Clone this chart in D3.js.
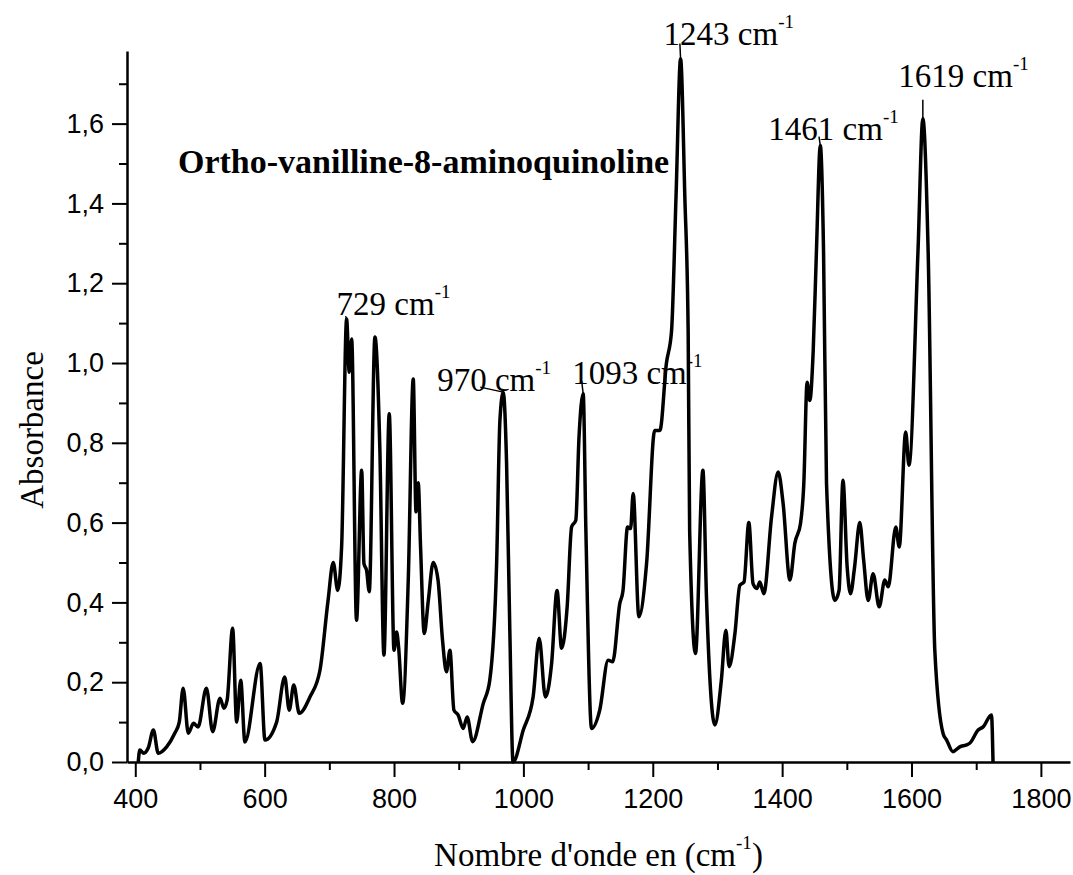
<!DOCTYPE html>
<html lang="en">
<head>
<meta charset="utf-8">
<script src="https://d3js.org/d3.v7.min.js"></script>
<style>
  body { margin: 0; background: #fff; }
</style>
</head>
<body>
<script>
// spectrum: wavenumber (cm-1) and absorbance
var wavenumber = [
  404.6, 407, 413, 420, 428, 435.5, 448.5, 461, 468, 474, 482, 490, 497, 510, 519.6,
  531, 537, 542, 550.5, 556.7, 563, 569.5, 593, 600.5, 618.5, 631, 638, 645, 653.5,
  670, 685.5, 698, 706, 713, 719, 726.7, 730.8, 734.5, 742, 750, 753.5, 757.6, 761.7,
  770.5, 778, 784.4, 792.6, 800, 804, 807, 813.3, 822, 829.7, 834, 837.4, 841, 846.7,
  853, 860.6, 868, 875, 881, 886.4, 892.6, 899, 907, 913, 921.5, 938, 948, 958.6,
  963.7, 968.8, 974, 979, 984, 999.8, 1015, 1024.4, 1034, 1043.6, 1052, 1059, 1067.7,
  1074.5, 1081, 1086, 1092.4, 1096.6, 1105.4, 1118, 1131, 1138, 1149, 1154, 1161,
  1165.7, 1169.7, 1178.5, 1190.4, 1203, 1211, 1221, 1229, 1236, 1243, 1249.5, 1254.7,
  1257, 1266, 1277.5, 1283, 1296, 1306, 1313, 1318, 1327, 1334.6, 1341, 1348.5, 1355,
  1361, 1365.5, 1371.7, 1383.6, 1393.8, 1401.5, 1412, 1419.6, 1428.4, 1433.5, 1438.6,
  1442.8, 1448, 1453, 1459, 1464, 1468.6, 1481.5, 1488, 1494, 1500.5, 1505.7, 1512,
  1520, 1526, 1533, 1540.6, 1550, 1558.7, 1564, 1575.7, 1581, 1591, 1596, 1610,
  1617.5, 1625.7, 1636, 1649, 1654.3, 1664, 1674.6, 1685, 1690, 1703, 1710.7, 1723.6, 1726
];
var absorbance = [
  0.0, 0.03, 0.022, 0.035, 0.08, 0.022, 0.038, 0.072, 0.10, 0.185, 0.072, 0.097, 0.088, 0.185, 0.076,
  0.16, 0.135, 0.155, 0.335, 0.10, 0.205, 0.05, 0.247, 0.055, 0.10, 0.213, 0.13, 0.193, 0.122,
  0.163, 0.23, 0.405, 0.50, 0.43, 0.54, 1.11, 0.977, 1.06, 0.355, 0.731, 0.497, 0.48, 0.427,
  1.065, 0.79, 0.268, 0.873, 0.28, 0.326, 0.289, 0.147, 0.456, 0.96, 0.627, 0.70, 0.54, 0.322,
  0.405, 0.50, 0.456, 0.305, 0.226, 0.28, 0.13, 0.118, 0.084, 0.113, 0.051, 0.147, 0.205, 0.497,
  0.856, 0.927, 0.748, 0.33, 0.0, 0.08, 0.163, 0.31, 0.163, 0.247, 0.43, 0.285, 0.39,
  0.589, 0.606, 0.815, 0.923, 0.58, 0.084, 0.13, 0.255, 0.251, 0.397, 0.43, 0.589,
  0.585, 0.673, 0.364, 0.497, 0.831, 0.831, 0.998, 1.08, 1.42, 1.762, 1.42, 1.08,
  0.58, 0.272, 0.731, 0.414, 0.093, 0.205, 0.33, 0.239, 0.322, 0.443, 0.451, 0.60, 0.447,
  0.435, 0.451, 0.422, 0.614, 0.727, 0.648, 0.456, 0.548, 0.598, 0.698, 0.952,
  0.906, 1.03, 1.28, 1.545, 1.28, 0.698, 0.405, 0.43, 0.706, 0.489, 0.422, 0.489,
  0.60, 0.506, 0.405, 0.472, 0.389, 0.456, 0.439, 0.589, 0.539, 0.827, 0.744, 1.28,
  1.612, 1.28, 0.28, 0.07, 0.055, 0.026, 0.038, 0.043, 0.047, 0.08, 0.088, 0.118, 0.0
];

var xMajorTicks = [400, 600, 800, 1000, 1200, 1400, 1600, 1800];
var xMinorTicks = [500, 700, 900, 1100, 1300, 1500, 1700];
var yMajorTicks = [0, 0.2, 0.4, 0.6, 0.8, 1.0, 1.2, 1.4, 1.6];
var yMinorTicks = [0.1, 0.3, 0.5, 0.7, 0.9, 1.1, 1.3, 1.5, 1.7];

var peakLabels = ["729", "970", "1093", "1243", "1461", "1619"];
var peakWavenumber = [726.7, 968.8, 1092.4, 1243, 1459, 1617.5];
var peakAbsorbance = [1.11, 0.927, 0.923, 1.762, 1.545, 1.612];

var titleText = "Ortho-vanilline-8-aminoquinoline";
var xTitle = "Nombre d'onde en (cm";
var yTitle = "Absorbance";

var width = 1073, height = 875;
var serif = "'Liberation Serif', 'Times New Roman', serif";
var sans = "'Liberation Sans', Arial, sans-serif";

var svg = d3.select("body").append("svg")
  .attr("width", width)
  .attr("height", height);

var x = d3.scaleLinear().domain([387.2, 1845]).range([127, 1070]);
var y = d3.scaleLinear().domain([0, 1.782]).range([762, 51]);

var fmt = function (d) { return d3.format(".1f")(d).replace(".", ","); };

// minor ticks first, so the axis lines sit on top
svg.append("g")
  .attr("transform", "translate(0,762)")
  .call(d3.axisBottom(x).tickValues(xMinorTicks).tickSize(8).tickFormat(""))
  .call(function (g) { g.select(".domain").remove(); });
svg.append("g")
  .attr("transform", "translate(127,0)")
  .call(d3.axisLeft(y).tickValues(yMinorTicks).tickSize(8).tickFormat(""))
  .call(function (g) { g.select(".domain").remove(); });

svg.append("g")
  .attr("transform", "translate(0,762)")
  .call(d3.axisBottom(x).tickValues(xMajorTicks).tickSize(15).tickSizeOuter(0)
    .tickPadding(12).tickFormat(d3.format("d")));
svg.append("g")
  .attr("transform", "translate(127,0)")
  .call(d3.axisLeft(y).tickValues(yMajorTicks).tickSize(15).tickSizeOuter(0)
    .tickPadding(8).tickFormat(fmt));

svg.selectAll(".tick line").attr("stroke", "#000").attr("stroke-width", 2);
svg.selectAll(".domain").attr("stroke", "#000").attr("stroke-width", 2.5);
svg.selectAll(".tick text")
  .attr("fill", "#000")
  .style("font-family", sans)
  .style("font-size", "27px");

// spectrum
var points = wavenumber.map(function (w, i) { return [w, absorbance[i]]; });
var line = d3.line()
  .x(function (d) { return x(d[0]); })
  .y(function (d) { return y(d[1]); })
  .curve(d3.curveMonotoneX);

svg.append("path")
  .datum(points)
  .attr("d", line)
  .attr("fill", "none")
  .attr("stroke", "#000")
  .attr("stroke-width", 3.5)
  .attr("stroke-linejoin", "round");

// peak labels: offset of the text from the peak top, and leader end
var labelOffset = [[-10, -4], [-66, -1], [-11, -10], [-17, -13.5], [-52, -5.5], [-24.5, -31.5]];
var leaderEnd = [[-1, -3], [-23, -5], [-1.5, -13], [-0.7, -15.5], [-1.3, -9], [0, -19]];

peakLabels.forEach(function (lab, i) {
  var px = x(peakWavenumber[i]), py = y(peakAbsorbance[i]);
  svg.append("line")
    .attr("x1", px).attr("y1", py)
    .attr("x2", px + leaderEnd[i][0]).attr("y2", py + leaderEnd[i][1])
    .attr("stroke", "#000")
    .attr("stroke-width", 1.5);
  var t = svg.append("text")
    .attr("x", px + labelOffset[i][0])
    .attr("y", py + labelOffset[i][1])
    .style("font-family", serif)
    .style("font-size", "33px");
  t.append("tspan").text(lab + " cm");
  t.append("tspan").attr("dy", -17).style("font-size", "19px").text("-1");
});

// title inside the plot
svg.append("text")
  .attr("x", 178)
  .attr("y", 173)
  .style("font-family", serif)
  .style("font-weight", "bold")
  .style("font-size", "34px")
  .text(titleText);

// axis titles
var xt = svg.append("text")
  .attr("x", (127 + 1070) / 2)
  .attr("y", 866)
  .attr("text-anchor", "middle")
  .style("font-family", serif)
  .style("font-size", "33px");
xt.append("tspan").text(xTitle);
xt.append("tspan").attr("dy", -17).style("font-size", "19px").text("-1");
xt.append("tspan").attr("dy", 17).text(")");

svg.append("text")
  .attr("transform", "translate(43,430) rotate(-90)")
  .attr("text-anchor", "middle")
  .style("font-family", serif)
  .style("font-size", "33px")
  .text(yTitle);
</script>
</body>
</html>
